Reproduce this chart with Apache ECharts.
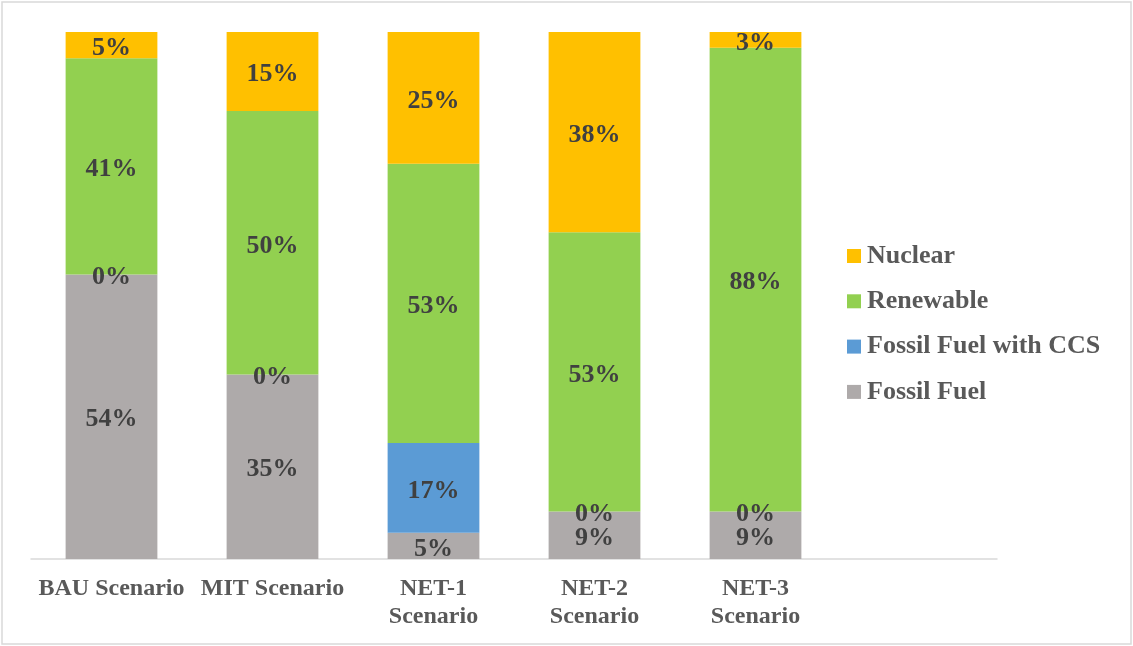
<!DOCTYPE html>
<html>
<head>
<meta charset="utf-8">
<script src="https://cdn.jsdelivr.net/npm/echarts@6/dist/echarts.min.js"></script>
<style>
  html, body { margin: 0; padding: 0; background: #fff; }
  #chart { width: 1133px; height: 646px; }
</style>
</head>
<body>
<div id="chart"></div>
<script>
// Electricity generation mix by scenario (share of total, %)
const categories = ['BAU Scenario', 'MIT Scenario', 'NET-1\nScenario', 'NET-2\nScenario', 'NET-3\nScenario', ''];
const fossilFuel = [54, 35, 5, 9, 9];
const fossilCCS  = [0, 0, 17, 0, 0];
const renewable  = [41, 50, 53, 53, 88];
const nuclear    = [5, 15, 25, 38, 3];

const serif = '"Liberation Serif", "Times New Roman", serif';

const chart = echarts.init(document.getElementById('chart'));

function barSeries(name, data, color) {
  return {
    name: name,
    type: 'bar',
    stack: 'mix',
    data: data,
    barWidth: '57%',
    itemStyle: { color: color },
    label: {
      show: true,
      position: 'inside',
      offset: [0, 3],
      formatter: '{c}%',
      fontFamily: serif,
      fontWeight: 'bold',
      fontSize: 26,
      color: '#404040'
    },
    emphasis: { disabled: true }
  };
}

chart.setOption({
  animation: false,
  backgroundColor: '#fff',
  graphic: [{
    type: 'rect',
    shape: { x: 2, y: 2, width: 1129, height: 642 },
    style: { fill: 'none', stroke: '#d9d9d9', lineWidth: 1.5 },
    silent: true
  }],
  grid: { left: 31, right: 136, top: 32, bottom: 87 },
  legend: {
    orient: 'vertical',
    left: 842,
    top: 238,
    itemWidth: 14,
    itemHeight: 14,
    itemGap: 19.3,
    icon: 'rect',
    data: ['Nuclear', 'Renewable', 'Fossil Fuel with CCS', 'Fossil Fuel'],
    textStyle: {
      fontFamily: serif,
      fontWeight: 'bold',
      fontSize: 26,
      color: '#595959',
      padding: [0, 0, 0, 1]
    }
  },
  xAxis: {
    type: 'category',
    data: categories,
    axisLine: { lineStyle: { color: '#d9d9d9', width: 1.5 } },
    axisTick: { show: false },
    axisLabel: {
      interval: 0,
      margin: 16,
      fontFamily: serif,
      fontWeight: 'bold',
      fontSize: 24,
      lineHeight: 28,
      color: '#595959'
    }
  },
  yAxis: {
    type: 'value',
    min: 0,
    max: 100,
    show: false,
    splitLine: { show: false }
  },
  series: [
    barSeries('Fossil Fuel', fossilFuel, '#aeaaaa'),
    barSeries('Fossil Fuel with CCS', fossilCCS, '#5b9bd5'),
    barSeries('Renewable', renewable, '#92d050'),
    barSeries('Nuclear', nuclear, '#ffc000')
  ]
});
</script>
</body>
</html>
